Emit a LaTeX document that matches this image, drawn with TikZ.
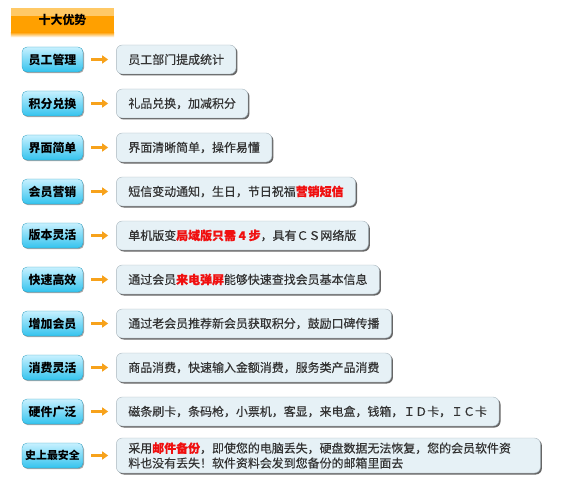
\documentclass[tikz,border=0pt]{standalone}
\usepackage{fontspec}
\setmainfont{Noto Sans CJK SC}
\newfontfamily\boxfont[FakeBold=0.4]{Noto Sans CJK SC}
\usetikzlibrary{positioning, shadows, arrows.meta}
\definecolor{btntop}{HTML}{C8F1FF}
\definecolor{btnbot}{HTML}{33C3EE}
\definecolor{boxfill}{HTML}{E6F1F6}
\definecolor{boxline}{HTML}{A9B6BE}
\definecolor{titlelight}{HTML}{FFC966}
\definecolor{titleorange}{HTML}{FFA000}
\definecolor{arroworange}{HTML}{F7A21B}
\definecolor{hot}{HTML}{F01010}
\definecolor{txt}{HTML}{333333}
\newcommand{\redtext}[1]{\textcolor{hot}{\bfseries #1}}
\tikzstyle{titlebar} = [rectangle, minimum width=103bp, minimum height=24bp, fill=titleorange, font=\bfseries\fontsize{12}{14}\selectfont, path picture={\fill[titlelight] (path picture bounding box.north west) rectangle ([yshift=-8bp]path picture bounding box.north east);}]
\tikzstyle{feature} = [rectangle, rounded corners=5bp, minimum width=61bp, minimum height=25bp, inner sep=0pt, top color=btntop, bottom color=btnbot, draw=btnbot!80!black, line width=0.3pt, font=\bfseries\fontsize{12}{14}\selectfont, drop shadow={shadow xshift=1bp, shadow yshift=-1.2bp, fill=gray, opacity=0.7}]
\tikzstyle{detail} = [rectangle, rounded corners=6bp, minimum height=29bp, inner xsep=12bp, fill=boxfill, draw=boxline, text=txt, font=\boxfont\fontsize{12}{15}\selectfont, drop shadow={shadow xshift=1.5bp, shadow yshift=-1.5bp, fill=black!60, opacity=1}]
\tikzstyle{arrow} = [line width=2.6bp, arroworange, -{Triangle[length=6bp,width=8bp]}, shorten <=8bp, shorten >=8bp]

\begin{document}
\begin{tikzpicture}[x=1bp, y=-1bp, node distance=44bp]
        \useasboundingbox (0,0) rectangle (569,482);

        \node (title) [titlebar] at (62.5,20) {十大优势};
        \shade [top color=titleorange, bottom color=white] (title.south west) rectangle ([yshift=-5bp]title.south east);

        \node (b1) [feature] at (52.5,59.5) {员工管理};
        \node (b2) [feature, below of=b1] {积分兑换};
        \node (b3) [feature, below of=b2] {界面简单};
        \node (b4) [feature, below of=b3] {会员营销};
        \node (b5) [feature, below of=b4] {版本灵活};
        \node (b6) [feature, below of=b5] {快速高效};
        \node (b7) [feature, below of=b6] {增加会员};
        \node (b8) [feature, below of=b7] {消费灵活};
        \node (b9) [feature, below of=b8] {硬件广泛};
        \node (b10) [feature, below of=b9, font=\bfseries\fontsize{11}{13}\selectfont] {史上最安全};

        \node (d1) [detail, right=33bp of b1] {员工部门提成统计};
        \node (d2) [detail, right=33bp of b2] {礼品兑换，加减积分};
        \node (d3) [detail, right=33bp of b3] {界面清晰简单，操作易懂};
        \node (d4) [detail, right=33bp of b4] {短信变动通知，生日，节日祝福\redtext{营销短信}};
        \node (d5) [detail, right=33bp of b5] {单机版变\redtext{局域版只需 4 步}，具有ＣＳ网络版};
        \node (d6) [detail, right=33bp of b6] {通过会员\redtext{来电弹屏}能够快速查找会员基本信息};
        \node (d7) [detail, right=33bp of b7] {通过老会员推荐新会员获取积分，鼓励口碑传播};
        \node (d8) [detail, right=33bp of b8] {商品消费，快速输入金额消费，服务类产品消费};
        \node (d9) [detail, right=33bp of b9] {磁条刷卡，条码枪，小票机，客显，来电盒，钱箱，ＩＤ卡，ＩＣ卡};
        \node (d10) [detail, right=33bp of b10, text width=400bp, align=left, minimum height=35bp] {采用\redtext{邮件备份}，即使您的电脑丢失，硬盘数据无法恢复，您的会员软件资\\料也没有丢失！软件资料会发到您备份的邮箱里面去};

        \foreach \i in {1,...,10}
            \draw [arrow] (b\i) -- (d\i);
\end{tikzpicture}
\end{document}
